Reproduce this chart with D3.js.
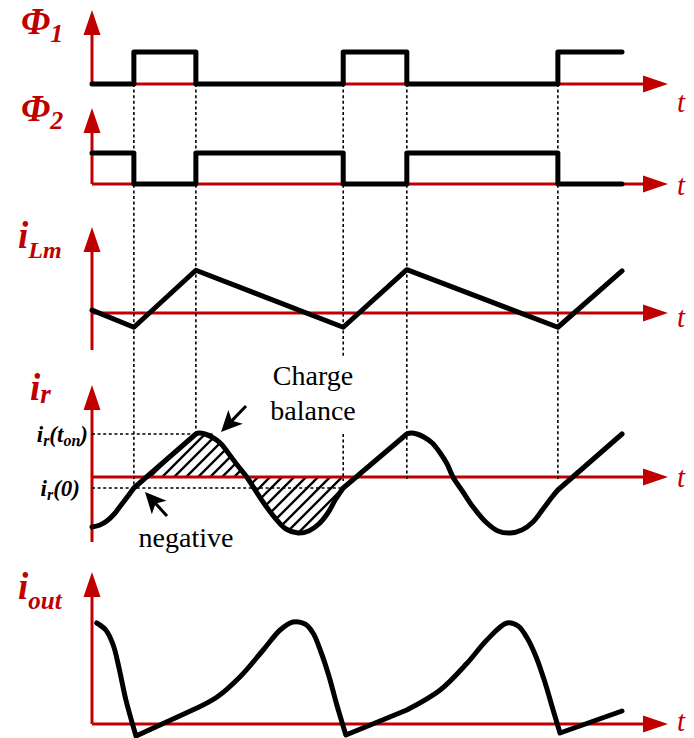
<!DOCTYPE html>
<html><head><meta charset="utf-8">
<script src="https://cdn.jsdelivr.net/npm/d3@7"></script>
<style>body{margin:0;background:#fff}svg{display:block}</style>
</head><body>
<script>
// ---------- data (time in arbitrary units 0..100, signals in arbitrary units) ----------
const switchTimes = [7.9, 19.6, 47.4, 59.4, 87.9];
const phi1 = [[0,0],[7.9,1],[19.6,0],[47.4,1],[59.4,0],[87.9,1],[100,1]];
const phi2 = [[0,1],[7.9,0],[19.6,1],[47.4,0],[59.4,1],[87.9,0],[100,0]];
const iLm  = [[0,0.05],[7.9,-0.25],[19.6,0.75],[47.4,-0.25],[59.4,0.76],[87.9,-0.25],[100,0.74]];
const irTon = 0.86, ir0 = -0.22;
const irSeg = [
  {smooth:true,  pts:[[0,-1.0],[1.5,-0.96],[2.8,-0.88],[4.2,-0.74],[5.5,-0.56],[6.8,-0.38],[7.9,-0.22]]},
  {smooth:false, pts:[[7.9,-0.22],[19.6,0.86]]},
  {smooth:true,  pts:[[19.6,0.86],[20.2,0.88],[21.3,0.86],[22.6,0.80],[24.2,0.68],[25.7,0.48],[27.4,0.24],[29.2,0.0],[30.9,-0.28],[32.8,-0.58],[34.7,-0.84],[36.6,-1.04],[38.9,-1.12],[40.9,-1.08],[42.8,-0.94],[44.5,-0.72],[46.0,-0.44],[47.4,-0.22]]},
  {smooth:false, pts:[[47.4,-0.22],[59.4,0.86]]},
  {smooth:true,  pts:[[59.4,0.86],[60.2,0.88],[61.3,0.86],[62.6,0.80],[64.2,0.68],[65.7,0.48],[67.0,0.26],[68.1,0.0],[70.0,-0.30],[71.9,-0.60],[74.3,-0.90],[76.6,-1.08],[78.9,-1.12],[81.1,-1.06],[83.2,-0.90],[85.1,-0.64],[86.8,-0.40],[87.9,-0.26]]},
  {smooth:false, pts:[[87.9,-0.26],[100,0.86]]}
];
const ioutSeg = [
  {smooth:true,  pts:[[0.9,2.02],[2.6,1.88],[4.0,1.58],[5.1,1.12],[6.4,0.48],[8.3,-0.24]]},
  {smooth:false, pts:[[8.3,-0.24],[19.8,0.32]]},
  {smooth:true,  pts:[[19.8,0.32],[23.6,0.54],[27.9,0.94],[32.3,1.48],[35.5,1.88],[37.9,2.04],[40.2,2.0],[41.7,1.82],[43.2,1.44],[44.7,0.96],[46.2,0.38],[47.9,-0.22]]},
  {smooth:false, pts:[[47.9,-0.22],[59.4,0.28]]},
  {smooth:true,  pts:[[59.4,0.28],[65.7,0.68],[70.8,1.22],[74.5,1.68],[78.3,2.02],[80.4,1.96],[82.1,1.72],[83.8,1.34],[85.5,0.82],[87.0,0.28],[88.3,-0.18]]},
  {smooth:false, pts:[[88.3,-0.18],[100,0.26]]}
];
const hatchRange = [10.4, 49.8];
const tonLabelEnd = 22.8;

// ---------- layout ----------
const W = 694, H = 738, RED = "#c00000";
const svg = d3.select("body").append("svg").attr("width", W).attr("height", H);
const x = d3.scaleLinear().domain([0,100]).range([92,622]);
const axisX0 = 92, axisX1 = 668;
const panels = {
  phi1: {y: d3.scaleLinear().domain([0,1]).range([84,52]),   top:10,  bottom:84,  tBase:112},
  phi2: {y: d3.scaleLinear().domain([0,1]).range([184,153]), top:108, bottom:184, tBase:195},
  lm:   {y: d3.scaleLinear().domain([0,1]).range([313,256]), top:227, bottom:350, tBase:327},
  ir:   {y: d3.scaleLinear().domain([0,1]).range([477,427]), top:385, bottom:542, tBase:487},
  out:  {y: d3.scaleLinear().domain([0,1]).range([724,674]), top:572, bottom:724, tBase:731}
};
const SERIF = "'Liberation Serif','Times New Roman',serif";

function segPath(segs, y) {
  let d = "";
  segs.forEach((s, i) => {
    const g = d3.line().x(p => x(p[0])).y(p => y(p[1]))
      .curve(s.smooth ? d3.curveCatmullRom.alpha(0.5) : d3.curveLinear);
    let p = g(s.pts);
    if (i > 0) p = "L" + p.slice(1);
    d += p;
  });
  return d;
}

// ---------- hatching (ir panel) ----------
const yIr = panels.ir.y;
const defs = svg.append("defs");
const areaD = segPath(irSeg, yIr) + `L${x(100)},${yIr(0)}L${x(0)},${yIr(0)}Z`;
defs.append("clipPath").attr("id","irArea").append("path").attr("d", areaD);
defs.append("clipPath").attr("id","irRect").append("rect")
  .attr("x", x(hatchRange[0])).attr("y", 400)
  .attr("width", x(hatchRange[1]) - x(hatchRange[0])).attr("height", 160);
const hg = svg.append("g").attr("clip-path","url(#irRect)").append("g").attr("clip-path","url(#irArea)");
const hy0 = 545, hy1 = 420, sp = 12;
d3.range(x(hatchRange[0]) - (hy0-hy1), x(hatchRange[1]) + 5, sp).forEach(xs => {
  hg.append("line").attr("x1", xs).attr("y1", hy0).attr("x2", xs + (hy0-hy1)).attr("y2", hy1)
    .attr("stroke","#000").attr("stroke-width",2.4);
});

// ---------- axes ----------
const ax = svg.append("g");
Object.values(panels).forEach(p => {
  const b = p.y(0);
  ax.append("line").attr("x1",axisX0).attr("y1",p.bottom).attr("x2",axisX0).attr("y2",p.top+20)
    .attr("stroke",RED).attr("stroke-width",3);
  ax.append("path").attr("d",`M${axisX0},${p.top}L${axisX0-8.5},${p.top+25}L${axisX0+8.5},${p.top+25}Z`).attr("fill",RED);
  ax.append("line").attr("x1",axisX0).attr("y1",b).attr("x2",axisX1-20).attr("y2",b)
    .attr("stroke",RED).attr("stroke-width",3);
  ax.append("path").attr("d",`M${axisX1},${b}L${axisX1-25},${b-8.5}L${axisX1-25},${b+8.5}Z`).attr("fill",RED);
  ax.append("text").attr("x",677).attr("y",p.tBase).text("t")
    .attr("font-family",SERIF).attr("font-style","italic").attr("font-size",29).attr("fill",RED);
});

// ---------- dashed guides ----------
const dg = svg.append("g").attr("stroke","#000").attr("stroke-width",1.6).attr("stroke-dasharray","3,2.6");
const yTop = panels.phi1.y(0);
const guides = [
  [switchTimes[0], yTop, yIr(ir0)],
  [switchTimes[1], yTop, yIr(irTon)],
  [switchTimes[2], yTop, 358],
  [switchTimes[2], yIr(irTon), yIr(0)+4],
  [switchTimes[3], yTop, yIr(0)+4],
  [switchTimes[4], yTop, yIr(0)+4]
];
guides.forEach(g => dg.append("line").attr("x1",x(g[0])).attr("x2",x(g[0])).attr("y1",g[1]).attr("y2",g[2]));
dg.append("line").attr("x1",axisX0).attr("x2",x(tonLabelEnd)).attr("y1",yIr(irTon)).attr("y2",yIr(irTon));
dg.append("line").attr("x1",axisX0).attr("x2",x(switchTimes[2])).attr("y1",yIr(ir0)).attr("y2",yIr(ir0));

// ---------- waveforms ----------
const wave = svg.append("g").attr("fill","none").attr("stroke","#000").attr("stroke-width",5)
  .attr("stroke-linejoin","round").attr("stroke-linecap","round");
const stepLine = y => d3.line().x(p=>x(p[0])).y(p=>y(p[1])).curve(d3.curveStepAfter);
wave.append("path").attr("d", stepLine(panels.phi1.y)(phi1));
wave.append("path").attr("d", stepLine(panels.phi2.y)(phi2));
wave.append("path").attr("d", d3.line().x(p=>x(p[0])).y(p=>panels.lm.y(p[1]))(iLm));
wave.append("path").attr("d", segPath(irSeg, yIr));
wave.append("path").attr("d", segPath(ioutSeg, panels.out.y));

// ---------- labels ----------
function label(xp, yp, main, sub, dy, fs, sfs, color) {
  const t = svg.append("text").attr("x",xp).attr("y",yp).attr("font-family",SERIF)
    .attr("font-weight","bold").attr("font-style","italic").attr("font-size",fs).attr("fill",color);
  t.append("tspan").text(main);
  t.append("tspan").attr("dy",dy).attr("font-size",sfs).text(sub);
}
label(21, 34, "Φ", "1", 8, 37, 26, RED);
label(21, 121, "Φ", "2", 8, 37, 26, RED);
label(18, 248, "i", "Lm", 10, 37, 24, RED);
label(30, 400, "i", "r", 3, 37, 27, RED);
label(18, 599, "i", "out", 10, 37, 25, RED);

// ir(t_on) and ir(0)
function irLabel(xr, yb, parts) {
  const t = svg.append("text").attr("x",xr).attr("y",yb).attr("text-anchor","end").attr("font-family",SERIF)
    .attr("font-weight","bold").attr("font-style","italic").attr("font-size",23).attr("fill","#000");
  let cur = 0;
  parts.forEach(([s, sub]) => {
    const off = sub ? 4 : 0;
    t.append("tspan").attr("dy", off - cur).attr("font-size", sub ? 16 : 23).text(s);
    cur = off;
  });
}
irLabel(88, 442, [["i",0],["r",1],["(t",0],["on",1],[")",0]]);
irLabel(80, 496, [["i",0],["r",1],["(0)",0]]);

// annotations
const ann = svg.append("g").attr("font-family",SERIF).attr("font-size",28).attr("fill","#000").attr("text-anchor","middle");
ann.append("text").attr("x",313).attr("y",385).text("Charge");
ann.append("text").attr("x",313).attr("y",420).text("balance");
ann.append("text").attr("x",186).attr("y",547).text("negative");

function arrow(x1,y1,x2,y2){
  const a = Math.atan2(y2-y1, x2-x1), L = 21, w = 10;
  const bx = x2 - L*Math.cos(a), by = y2 - L*Math.sin(a);
  const nx = -Math.sin(a), ny = Math.cos(a);
  svg.append("line").attr("x1",x1).attr("y1",y1).attr("x2",bx+ (x2-bx)*0.3).attr("y2",by+(y2-by)*0.3)
    .attr("stroke","#000").attr("stroke-width",3);
  svg.append("path").attr("d",`M${x2},${y2}L${bx+nx*w},${by+ny*w}L${bx+ (x2-bx)*0.25},${by+(y2-by)*0.25}L${bx-nx*w},${by-ny*w}Z`).attr("fill","#000");
}
arrow(246, 406, 221, 432);
arrow(167, 516, 145, 492);
</script>
</body></html>
